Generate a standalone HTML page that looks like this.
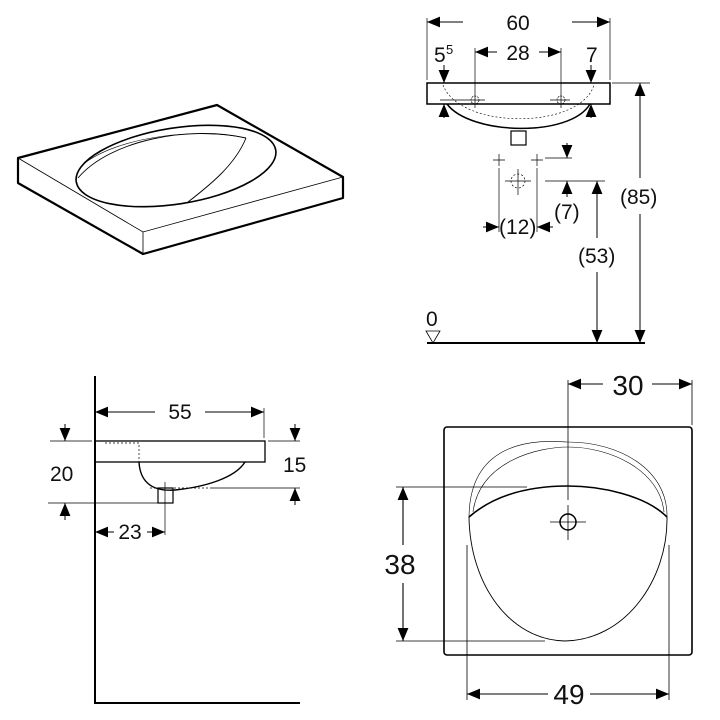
<!DOCTYPE html>
<html><head><meta charset="utf-8"><style>
html,body{margin:0;padding:0;background:#fff;width:720px;height:720px;overflow:hidden}
svg{display:block}
text{font-family:"Liberation Sans",sans-serif;fill:#111}
</style></head><body>
<svg width="720" height="720" viewBox="0 0 720 720" xmlns="http://www.w3.org/2000/svg">
<defs>
<marker id="a" viewBox="0 0 12 10" refX="12" refY="5" markerWidth="13" markerHeight="11" markerUnits="userSpaceOnUse" orient="auto-start-reverse"><path d="M0,0L12,5L0,10z" fill="#000"/></marker>
</defs>
<g fill="none" stroke="#000">
<path d="M18,158 L217,105 L343,177 L343,198 L143,254 L18,183 Z" stroke-width="2.2" stroke-linejoin="round"/>
<path d="M18,158 L143,232 L343,177 M143,232 L143,254" stroke-width="0.8"/>
<ellipse cx="176" cy="166" rx="101" ry="38" transform="rotate(-9 176 166)" stroke-width="1.6"/>
<path d="M78,178 C110,140 190,125 246,138" stroke-width="0.9"/>
<path d="M246,138 C235,165 210,185 188,202" stroke-width="0.9"/>
<path d="M82,165 C120,135 200,128 246,138" stroke-width="0.6"/>

<rect x="427" y="83" width="183" height="21" stroke-width="1.5"/>
<path d="M447,104 C470,135 570,138 590,104" stroke-width="1.5"/>
<path d="M443,85 C460,130 580,130 594,85" stroke-width="0.6" stroke-dasharray="2,2"/>
<rect x="511" y="131" width="15" height="14" stroke-width="1.2"/>
<g stroke-width="0.7">
<path d="M427,80 V18 M610,80 V18 M475,48 V108 M561,48 V108 M440,100 H485 M550,100 H570"/>
<circle cx="475" cy="100" r="4" stroke-dasharray="2,1"/><circle cx="561" cy="100" r="4" stroke-dasharray="2,1"/>
<path d="M612,83 H650 M545,181 H605 M545,158 H572 M499,168 V232 M537,168 V232"/>
<path d="M493,160 H505 M499,154 V166 M531,160 H543 M537,154 V166"/>
<circle cx="518" cy="181" r="7" stroke-dasharray="2,2"/>
<path d="M505,181 H531 M518,169 V195"/>
</g>
<g stroke-width="1">
<line x1="427" y1="22" x2="463" y2="22" marker-start="url(#a)"/><line x1="572" y1="22" x2="610" y2="22" marker-end="url(#a)"/>
<line x1="475" y1="52" x2="497" y2="52" marker-start="url(#a)"/><line x1="539" y1="52" x2="561" y2="52" marker-end="url(#a)"/>
<line x1="444" y1="65" x2="444" y2="83" marker-end="url(#a)"/><line x1="444" y1="118" x2="444" y2="104" marker-end="url(#a)"/>
<line x1="591" y1="65" x2="591" y2="83" marker-end="url(#a)"/><line x1="591" y1="118" x2="591" y2="104" marker-end="url(#a)"/>
<line x1="640" y1="178" x2="640" y2="83" marker-end="url(#a)"/><line x1="640" y1="214" x2="640" y2="343" marker-end="url(#a)"/>
<line x1="597" y1="238" x2="597" y2="181" marker-end="url(#a)"/><line x1="597" y1="272" x2="597" y2="343" marker-end="url(#a)"/>
<line x1="567" y1="143" x2="567" y2="158" marker-end="url(#a)"/><line x1="567" y1="197" x2="567" y2="181" marker-end="url(#a)"/>
<line x1="483" y1="227" x2="499" y2="227" marker-end="url(#a)"/><line x1="553" y1="227" x2="537" y2="227" marker-end="url(#a)"/>
</g>
<path d="M427,343 H645" stroke-width="2"/>
<path d="M426,331 H440 L433,343 Z" stroke-width="0.8"/>

<path d="M95,376 V703 H300" stroke-width="2"/>
<rect x="95" y="441" width="170" height="21" stroke-width="1.3"/>
<path d="M139,462 C140,480 150,492 175,490 C205,487 235,478 245,462" stroke-width="1.4"/>
<path d="M105,443 H139 V462 M150,488 H212" stroke-width="0.7" stroke-dasharray="2,2"/>
<rect x="158" y="488" width="15" height="15" stroke-width="1.2"/>
<g stroke-width="0.7">
<path d="M264,408 V438 M50,441 H92 M268,441 H300 M48,503 H158 M165,482 V535 M212,488 H300"/>
</g>
<g stroke-width="1">
<line x1="95" y1="412" x2="155" y2="412" marker-start="url(#a)"/><line x1="205" y1="412" x2="264" y2="412" marker-end="url(#a)"/>
<line x1="65" y1="424" x2="65" y2="441" marker-end="url(#a)"/><line x1="65" y1="520" x2="65" y2="503" marker-end="url(#a)"/>
<line x1="295" y1="424" x2="295" y2="441" marker-end="url(#a)"/><line x1="295" y1="505" x2="295" y2="488" marker-end="url(#a)"/>
<line x1="95" y1="532" x2="114" y2="532" marker-start="url(#a)"/><line x1="147" y1="532" x2="165" y2="532" marker-end="url(#a)"/>
</g>

<rect x="444" y="427" width="248" height="228" rx="3" stroke-width="1.6"/>
<path d="M469,517 C470,585 510,640 565,641 C625,640 668,580 667,517" stroke-width="0.9"/>
<path d="M469,517 C470,430 555,442 568,442 C620,442 668,470 667,517" stroke-width="0.6"/>
<path d="M473,512 C480,460 540,447 568,447 C610,447 660,470 664,512" stroke-width="0.6"/>
<path d="M469,517 C500,490 540,486 568,486 C600,486 645,495 667,517" stroke-width="1.6"/>
<circle cx="568" cy="522" r="8" stroke-width="1.5"/>
<g stroke-width="0.8">
<path d="M568,380 V500 M568,505 V540 M550,522 H586 M692,380 V425"/>
<path d="M396,487 H527 M396,641 H545 M467,545 V700 M669,545 V700"/>
</g>
<g stroke-width="1.1">
<line x1="568" y1="384" x2="603" y2="384" marker-start="url(#a)"/><line x1="652" y1="384" x2="692" y2="384" marker-end="url(#a)"/>
<line x1="403" y1="545" x2="403" y2="487" marker-end="url(#a)"/><line x1="403" y1="583" x2="403" y2="641" marker-end="url(#a)"/>
<line x1="467" y1="694" x2="548" y2="694" marker-start="url(#a)"/><line x1="590" y1="694" x2="669" y2="694" marker-end="url(#a)"/>
</g>
</g>
<g font-size="21">
<text x="518" y="30" text-anchor="middle">60</text>
<text x="518" y="60" text-anchor="middle">28</text>
<text x="434" y="62">5</text><text x="446" y="54" font-size="13">5</text>
<text x="586" y="62">7</text>
<text x="620" y="204">(85)</text>
<text x="578" y="263">(53)</text>
<text x="554" y="219">(7)</text>
<text x="499" y="234">(12)</text>
<text x="426" y="326">0</text>
<text x="180" y="419" text-anchor="middle">55</text>
<text x="50" y="481">20</text>
<text x="283" y="472">15</text>
<text x="130" y="539" text-anchor="middle">23</text>
</g>
<g font-size="28">
<text x="628" y="395" text-anchor="middle">30</text>
<text x="400" y="574" text-anchor="middle">38</text>
<text x="569" y="704" text-anchor="middle">49</text>
</g>
</svg>
</body></html>
